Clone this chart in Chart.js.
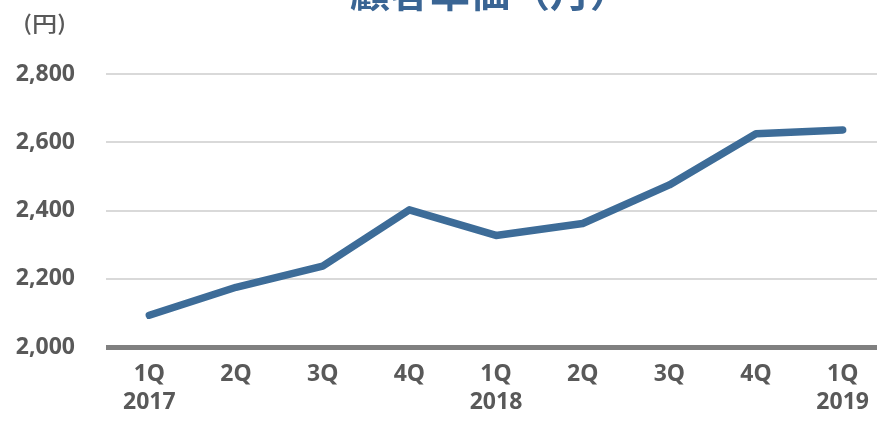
<!DOCTYPE html>
<html>
<head>
<meta charset="utf-8">
<script src="https://cdn.jsdelivr.net/npm/chart.js@4/dist/chart.umd.min.js"></script>
<style>
  html, body { margin: 0; padding: 0; background: #fff; overflow: hidden; }
  #wrap { width: 890px; height: 422px; }
</style>
</head>
<body>
<div id="wrap"><canvas id="priceChart" width="890" height="422"></canvas></div>
<script>
// ── 顧客単価 chart ─────────────────────────────────────────

const quarters = [['1Q', '2017'], '2Q', '3Q', '4Q', ['1Q', '2018'], '2Q', '3Q', '4Q', ['1Q', '2019']];
const unitPrice = [2093, 2175, 2237, 2402, 2327, 2362, 2475, 2625, 2636];
const yTicks = [2000, 2200, 2400, 2600, 2800];

const titleText = '顧客単価（月）';
const unitText = '(円)';

const LINE_BLUE = '#3d6c98';
const TEXT_GRAY = '#595959';
const TICK_FONT = { family: "'Noto Sans', sans-serif", size: 23, weight: 'bold' };

// title sits mostly above the top edge, unit label in the corner
const headerText = {
    id: 'headerText',
    afterDraw(chart) {
        const ctx = chart.ctx;
        ctx.save();
        ctx.fillStyle = '#3a6594';
        ctx.font = "bold 40px 'Noto Sans CJK JP', sans-serif";
        ctx.textAlign = 'center';
        ctx.textBaseline = 'alphabetic';
        ctx.fillText(titleText, 490, 7);

        // unit label, slightly widened
        ctx.fillStyle = TEXT_GRAY;
        ctx.font = "500 21px 'Noto Sans CJK JP', sans-serif";
        ctx.textAlign = 'left';
        ctx.textBaseline = 'middle';
        ctx.translate(23, 23);
        ctx.scale(1.2, 1);
        ctx.fillText(unitText, 0, 0);
        ctx.restore();
    }
};

const fmt = v => v.toLocaleString('en-US');

new Chart(document.getElementById('priceChart').getContext('2d'), {
    type: 'line',
    data: {
        labels: quarters,
        datasets: [{
            data: unitPrice,
            borderColor: LINE_BLUE,
            borderWidth: 7.5,
            borderCapStyle: 'round',
            borderJoinStyle: 'round',
            pointRadius: 0,
            tension: 0
        }]
    },
    options: {
        responsive: false,
        animation: false,
        devicePixelRatio: 1,
        layout: { padding: { top: 74, right: 4, left: 0, bottom: 0 } },
        plugins: {
            legend: { display: false },
            tooltip: { enabled: false }
        },
        scales: {
            x: {
                offset: true,
                grid: { display: false, drawTicks: false },
                border: { display: false },
                ticks: { color: TEXT_GRAY, font: TICK_FONT, padding: 14, maxRotation: 0, autoSkip: false },
                afterFit: s => { s.height = 75; }
            },
            y: {
                min: 2000,
                max: 2800,
                afterBuildTicks: s => { s.ticks = yTicks.map(v => ({ value: v })); },
                grid: {
                    drawTicks: false,
                    color: c => c.tick.value === 2000 ? '#808080' : '#d9d9d9',
                    lineWidth: c => c.tick.value === 2000 ? 5 : 2
                },
                border: { display: false },
                ticks: { color: TEXT_GRAY, font: TICK_FONT, padding: 31, callback: v => fmt(v) },
                afterFit: s => { s.width = 106; }
            }
        }
    },
    plugins: [headerText]
});
</script>
</body>
</html>
